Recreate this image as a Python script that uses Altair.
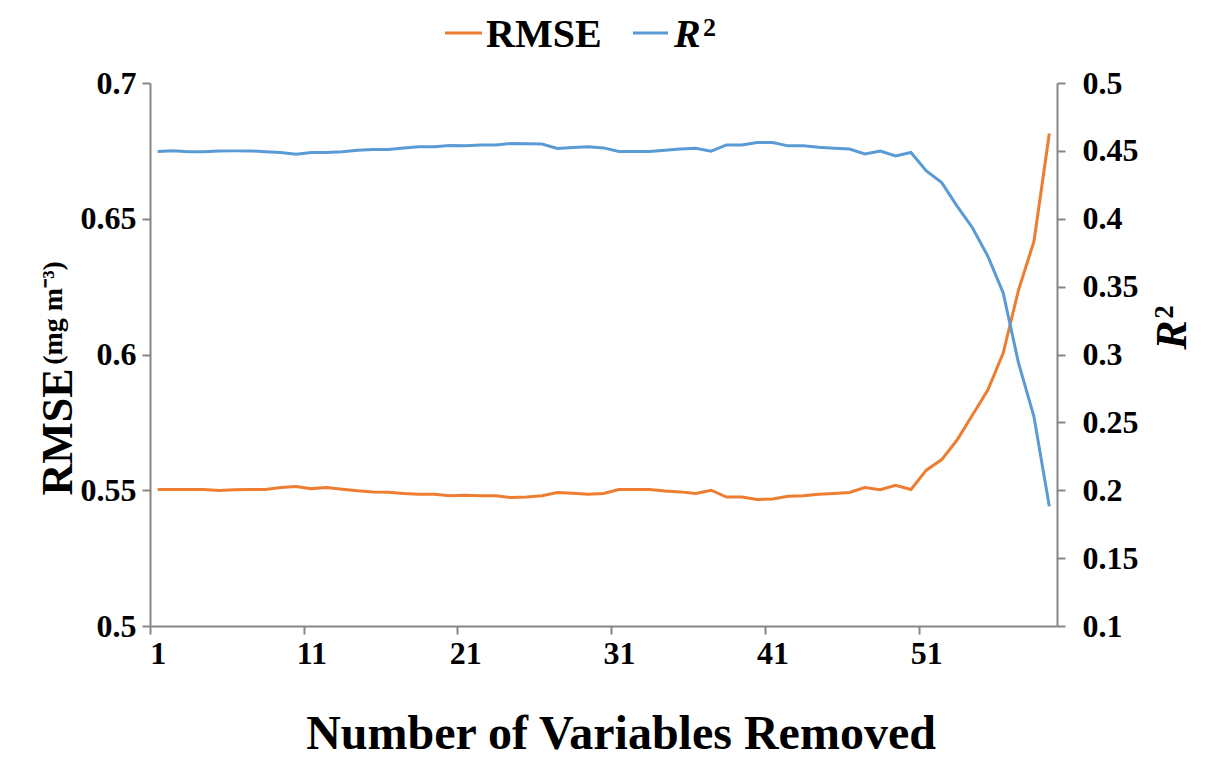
import altair as alt
import pandas as pd

# Number of variables removed (category positions 1..59)
variables_removed = list(range(1, 60))

rmse_values = [
    0.5503, 0.5503, 0.5503, 0.5503, 0.5499, 0.5502, 0.5503, 0.5503, 0.5510, 0.5514,
    0.5506, 0.5510, 0.5504, 0.5498, 0.5494, 0.5493, 0.5488, 0.5485, 0.5485, 0.5480,
    0.5482, 0.5480, 0.5480, 0.5473, 0.5475, 0.5480, 0.5492, 0.5489, 0.5485, 0.5488,
    0.5503, 0.5503, 0.5503, 0.5497, 0.5494, 0.5488, 0.5500, 0.5475, 0.5475, 0.5466,
    0.5468, 0.5478, 0.5480, 0.5485, 0.5488, 0.5492, 0.5510, 0.5502, 0.5518, 0.5503,
    0.5574, 0.5613, 0.5685, 0.5777, 0.5869, 0.6005, 0.6238, 0.6416, 0.6814,
]

r2_values = [
    0.4496, 0.4500, 0.4494, 0.4493, 0.4499, 0.4500, 0.4500, 0.4494, 0.4488, 0.4476,
    0.4488, 0.4488, 0.4493, 0.4504, 0.4510, 0.4510, 0.4521, 0.4530, 0.4530, 0.4540,
    0.4537, 0.4544, 0.4544, 0.4555, 0.4553, 0.4550, 0.4518, 0.4524, 0.4530, 0.4522,
    0.4496, 0.4496, 0.4496, 0.4505, 0.4513, 0.4520, 0.4498, 0.4544, 0.4544, 0.4562,
    0.4562, 0.4537, 0.4537, 0.4527, 0.4520, 0.4513, 0.4478, 0.4498, 0.4463, 0.4488,
    0.4352, 0.4266, 0.4093, 0.3934, 0.3724, 0.3453, 0.2936, 0.2542, 0.1882,
]

x_tick_positions = [0.5, 10.5, 20.5, 30.5, 40.5, 50.5]
rmse_ticks = [0.5, 0.55, 0.6, 0.65, 0.7]
r2_ticks = [0.1, 0.15, 0.2, 0.25, 0.3, 0.35, 0.4, 0.45, 0.5]

legend_labels = ["RMSE", "R", "2"]
x_title = "Number of Variables Removed"
left_title_main = "RMSE"
left_title_unit = "(mg m\u207b\u00b3)"

df = pd.DataFrame({"n": variables_removed, "rmse": rmse_values, "r2": r2_values})

FONT = "Liberation Serif"
ORANGE = "#ED7D31"
BLUE = "#5B9BD5"
W, H = 907, 543

x_enc = alt.X(
    "n:Q",
    scale=alt.Scale(domain=[0.5, 59.5], nice=False, zero=False),
    axis=alt.Axis(
        values=x_tick_positions,
        labelExpr="format(datum.value + 0.5, 'd')",
        labelOffset=7.7,
        labelFlush=False,
        labelOverlap=False,
        title=None,
        grid=False,
        tickSize=8,
        labelPadding=4,
    ),
)

base = alt.Chart(df).encode(x=x_enc)

rmse_line = base.mark_line(color=ORANGE, strokeWidth=3).encode(
    y=alt.Y(
        "rmse:Q",
        scale=alt.Scale(domain=[0.5, 0.7], nice=False, zero=False),
        axis=alt.Axis(
            orient="left",
            values=rmse_ticks,
            format=".2~f",
            title=None,
            grid=False,
            tickSize=8,
            labelPadding=6,
            labelFlush=False,
            labelOverlap=False,
        ),
    )
)

r2_line = base.mark_line(color=BLUE, strokeWidth=3).encode(
    y=alt.Y(
        "r2:Q",
        scale=alt.Scale(domain=[0.1, 0.5], nice=False, zero=False),
        axis=alt.Axis(
            orient="right",
            values=r2_ticks,
            format=".2~f",
            title=None,
            grid=False,
            tickSize=8,
            labelPadding=17,
            labelFlush=False,
            labelOverlap=False,
        ),
    )
)

one = alt.Data(values=[{}])


def txt(text, x, y, size, angle=0, style="normal", align="center", baseline="alphabetic"):
    return alt.Chart(one).mark_text(
        text=text,
        font=FONT,
        fontWeight="bold",
        fontStyle=style,
        fontSize=size,
        angle=angle,
        align=align,
        baseline=baseline,
        color="black",
    ).encode(x=alt.value(x), y=alt.value(y))


def seg(x1, x2, y, color):
    return alt.Chart(one).mark_rule(color=color, strokeWidth=3).encode(
        x=alt.value(x1), x2=alt.value(x2), y=alt.value(y)
    )


# plot origin is at page (150, 83)
legend = [
    seg(295, 332, -50, ORANGE),
    txt(legend_labels[0], 336, -36, 40, align="left"),
    seg(483, 518, -50, BLUE),
    txt(legend_labels[1], 524, -36, 40, style="italic", align="left"),
    txt(legend_labels[2], 553, -47, 26, align="left"),
]

titles = [
    txt(x_title, 471, 666, 48),
    txt(left_title_main, -78, 349, 44, angle=270),
    txt(left_title_unit, -88, 230, 28, angle=270),
    txt("R", 1036, 252, 44, angle=270, style="italic"),
    txt("2", 1023, 229, 27, angle=270),
]

chart = (
    alt.layer(rmse_line, r2_line, *legend, *titles)
    .resolve_scale(y="independent")
    .properties(
        width=W,
        height=H,
        autosize=alt.AutoSizeParams(type="none"),
        padding={"left": 142, "top": 75, "right": 140, "bottom": 134},
    )
    .configure_view(stroke=None)
    .configure_axis(
        domainColor="#868686",
        tickColor="#868686",
        domainWidth=2,
        tickWidth=2,
        labelFont=FONT,
        labelFontWeight="bold",
        labelFontSize=32,
        labelColor="black",
    )
)

chart.save("out.html", embed_options={"renderer": "svg", "actions": False})
